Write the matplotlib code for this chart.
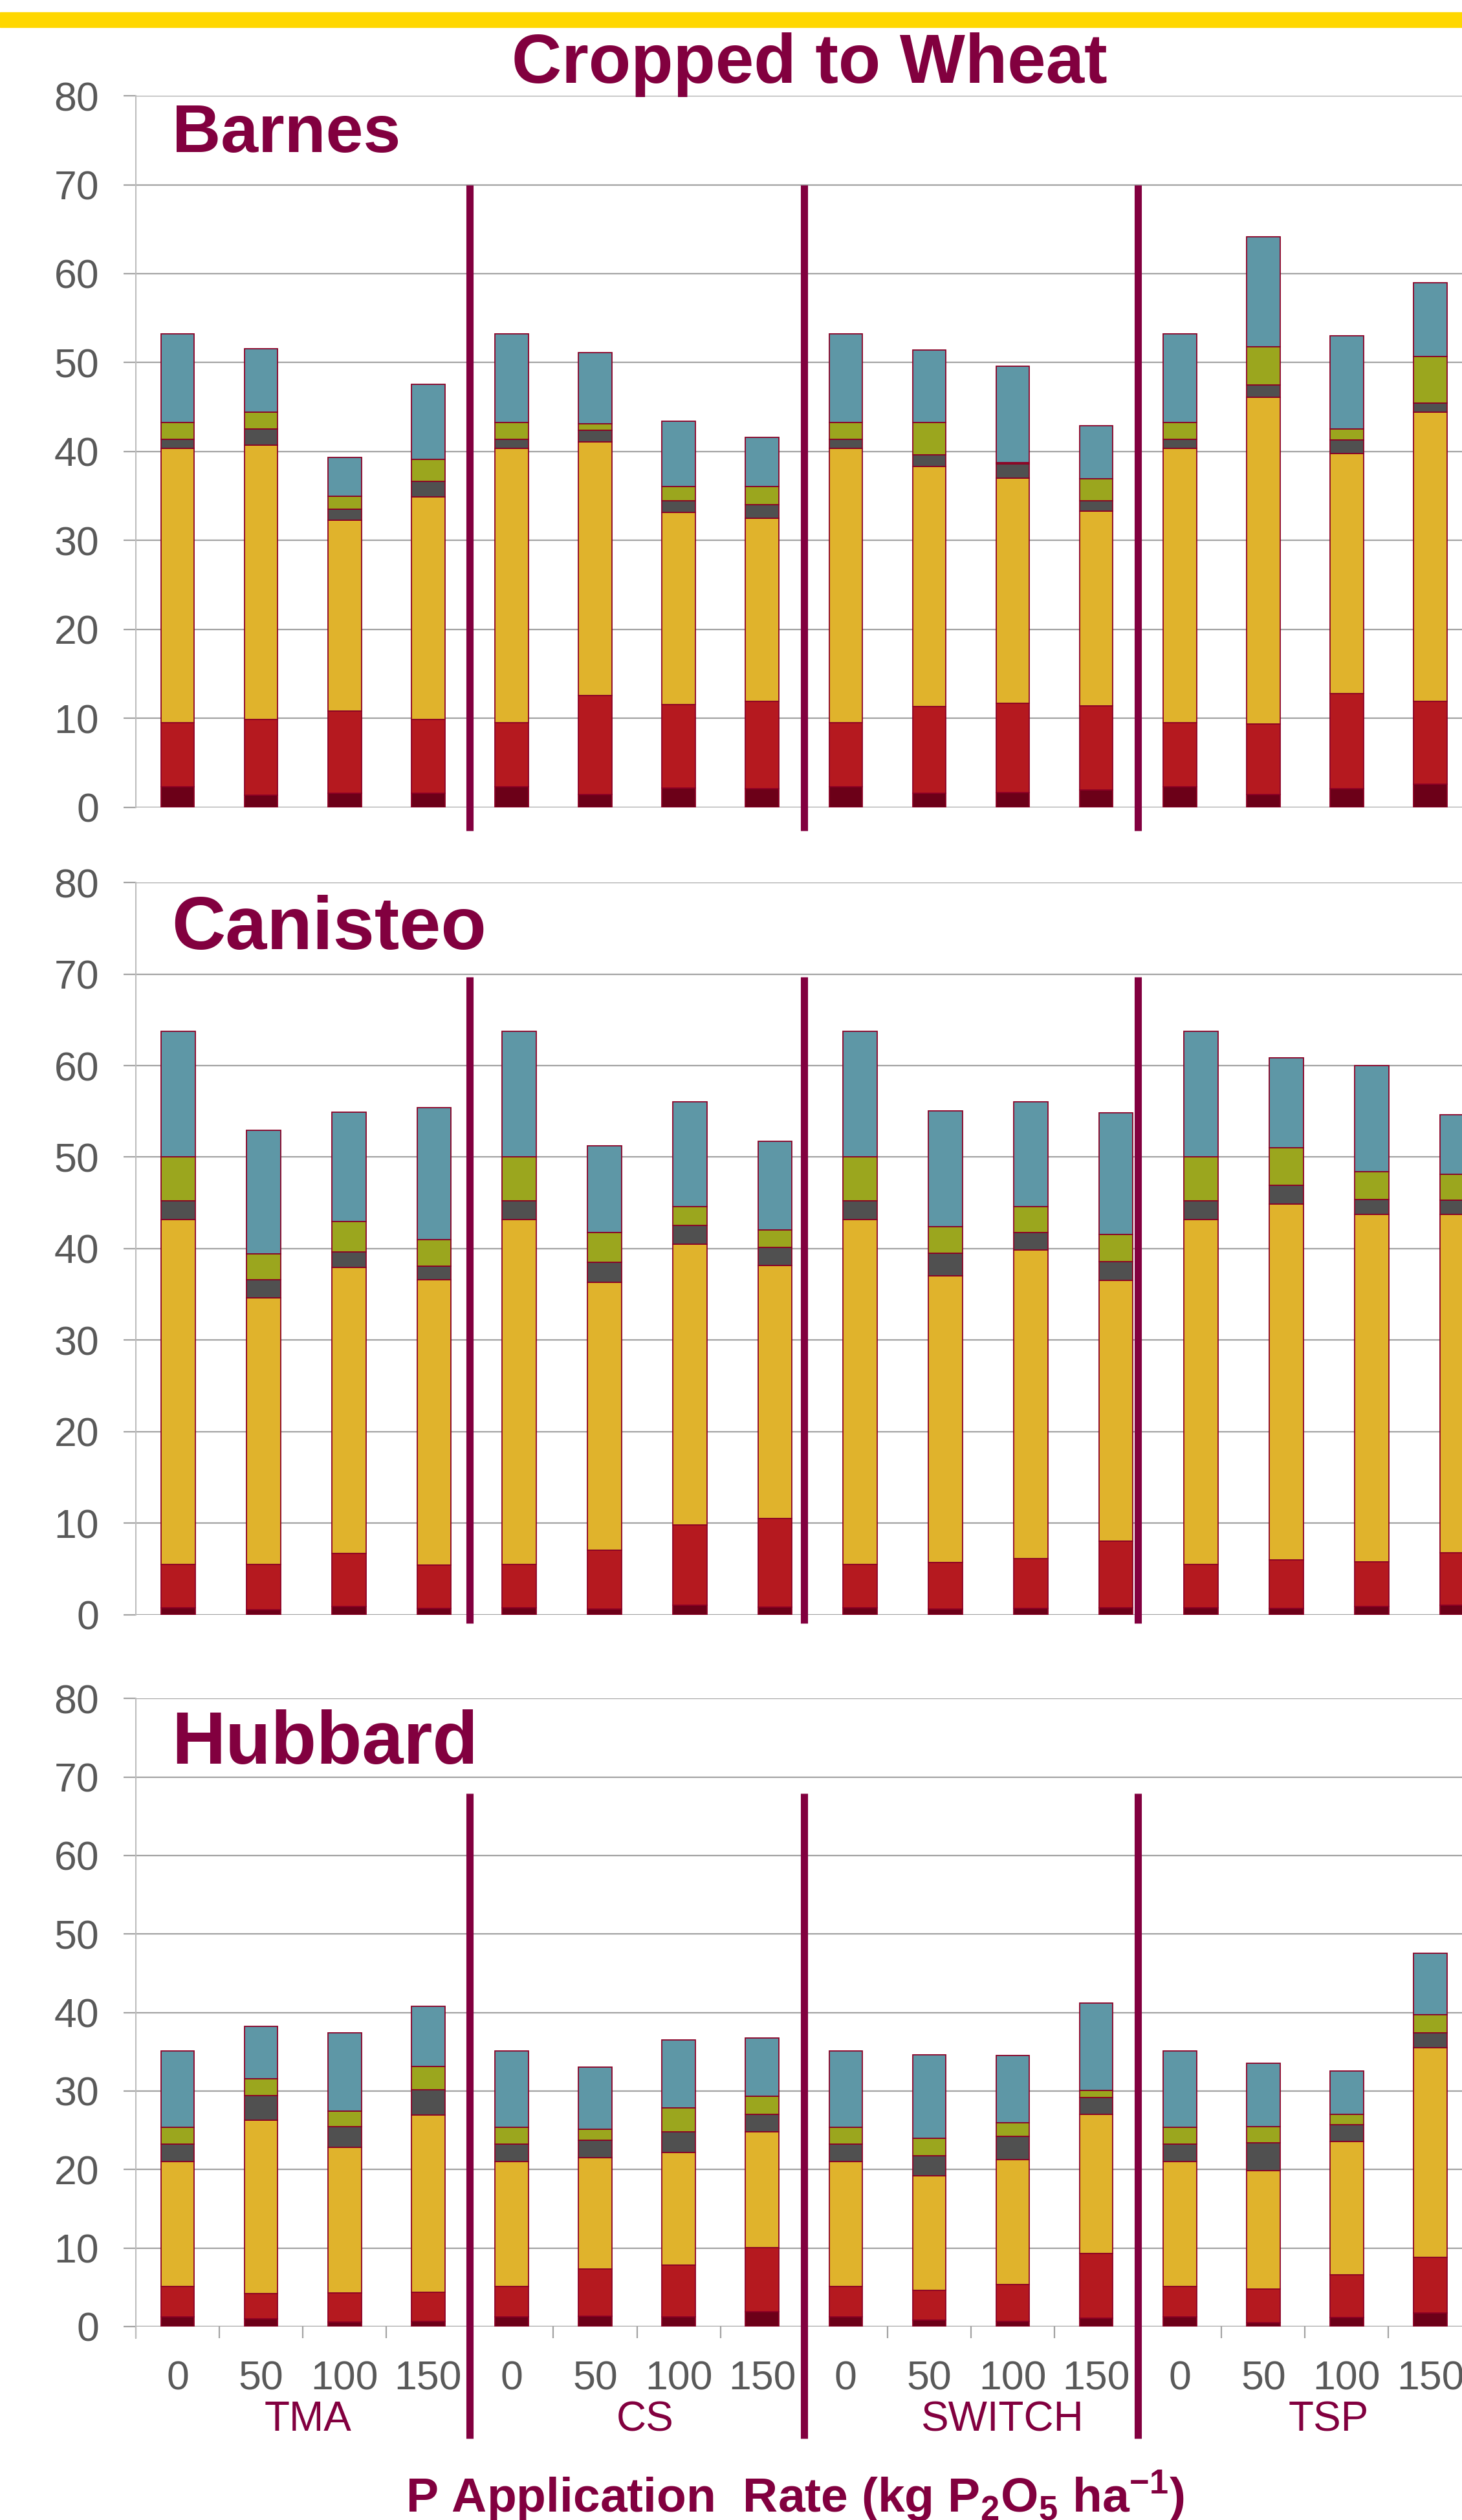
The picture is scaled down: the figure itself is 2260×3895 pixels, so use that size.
import matplotlib.pyplot as plt
import matplotlib.transforms as mtransforms
from matplotlib.patches import Rectangle
import numpy as np

plt.rcParams['font.family'] = ['Liberation Sans', 'DejaVu Sans']
plt.rcParams['mathtext.fontset'] = 'custom'
plt.rcParams['mathtext.rm'] = 'Liberation Sans:bold'
plt.rcParams['mathtext.bf'] = 'Liberation Sans:bold'

# categories: 4 sources x 4 rates
sources = ['TMA', 'CS', 'SWITCH', 'TSP']
rates = ['0', '50', '100', '150']

# segment heights, bottom to top (dark, red, gold, gray, olive, teal), 16 bars each
barnes_dark = [2.34, 1.36, 1.60, 1.60, 2.34, 1.46, 2.19, 2.09, 2.34, 1.60, 1.66, 1.95, 2.34, 1.46, 2.09, 2.58]
barnes_red = [7.16, 8.53, 9.21, 8.29, 7.16, 11.11, 9.40, 9.80, 7.16, 9.75, 10.08, 9.50, 7.16, 7.94, 10.72, 9.31]
barnes_gold = [30.83, 30.83, 21.48, 25.03, 30.83, 28.49, 21.58, 20.65, 30.83, 26.94, 25.28, 21.87, 30.83, 36.73, 26.94, 32.53]
barnes_gray = [1.07, 1.80, 1.27, 1.76, 1.07, 1.37, 1.32, 1.46, 1.07, 1.31, 1.61, 1.12, 1.07, 1.36, 1.56, 1.03]
barnes_olive = [1.90, 1.95, 1.41, 2.48, 1.90, 0.73, 1.60, 2.04, 1.90, 3.70, 0.10, 2.48, 1.90, 4.29, 1.21, 5.26]
barnes_teal = [9.94, 7.06, 4.34, 8.43, 9.94, 7.94, 7.36, 5.56, 9.94, 8.09, 10.86, 5.99, 9.94, 12.37, 10.52, 8.28]

canisteo_dark = [0.79, 0.56, 0.90, 0.68, 0.79, 0.62, 1.07, 0.85, 0.79, 0.62, 0.68, 0.79, 0.79, 0.68, 0.90, 1.07]
canisteo_red = [4.73, 4.96, 5.80, 4.73, 4.73, 6.42, 8.73, 9.69, 4.73, 5.07, 5.46, 7.27, 4.73, 5.29, 4.90, 5.69]
canisteo_gold = [37.69, 29.13, 31.22, 31.21, 37.69, 29.30, 30.71, 27.60, 37.69, 31.32, 33.69, 28.50, 37.69, 38.88, 37.92, 36.96]
canisteo_gray = [2.03, 1.97, 1.74, 1.46, 2.03, 2.14, 2.03, 1.97, 2.03, 2.48, 1.97, 2.03, 2.03, 2.08, 1.63, 1.58]
canisteo_olive = [4.79, 2.82, 3.33, 2.93, 4.79, 3.27, 2.02, 1.97, 4.79, 2.93, 2.82, 2.93, 4.79, 4.11, 3.04, 2.81]
canisteo_teal = [13.74, 13.52, 11.94, 14.43, 13.74, 9.52, 11.50, 9.64, 13.74, 12.62, 11.44, 13.30, 13.74, 9.81, 11.61, 6.54]

hubbard_dark = [1.20, 0.99, 0.57, 0.64, 1.20, 1.34, 1.20, 1.91, 1.20, 0.85, 0.64, 1.06, 1.20, 0.50, 1.13, 1.70]
hubbard_red = [3.89, 3.18, 3.67, 3.75, 3.89, 5.95, 6.58, 8.13, 3.89, 3.75, 4.67, 8.28, 3.89, 4.24, 5.45, 7.07]
hubbard_gold = [15.91, 22.14, 18.54, 22.56, 15.91, 14.21, 14.36, 14.72, 15.91, 14.57, 15.91, 17.68, 15.91, 15.14, 16.97, 26.74]
hubbard_gray = [2.27, 3.12, 2.68, 3.18, 2.27, 2.20, 2.62, 2.26, 2.27, 2.55, 2.97, 2.12, 2.27, 3.53, 2.13, 1.91]
hubbard_olive = [2.12, 2.12, 1.98, 2.97, 2.12, 1.41, 3.11, 2.33, 2.12, 2.26, 1.77, 0.92, 2.12, 2.05, 1.34, 2.33]
hubbard_teal = [9.69, 6.72, 9.98, 7.71, 9.69, 7.92, 8.63, 7.43, 9.69, 10.61, 8.56, 11.18, 9.69, 8.07, 5.52, 7.78]

seg_colors = ['#6C0018', '#B5191F', '#E0B32C', '#505050', '#9BA61E', '#5E97A6']
maroon = '#82003F'
edge = '#8B0025'
grid_gray = '#A3A3A3'
label_gray = '#595959'

fig = plt.figure(figsize=(22.6, 38.95), dpi=100)

# yellow band at the top
fig.patches.append(Rectangle((0, 1 - 42 / 3895), 1, 23 / 3895, transform=fig.transFigure,
                             color='#FFD700', zorder=0))

panels = [
    ('Barnes', [0.0929, 0.6796, 0.914, 0.2824], 75, 0.9397, 70, -2.6,
     [barnes_dark, barnes_red, barnes_gold, barnes_gray, barnes_olive, barnes_teal]),
    ('Canisteo', [0.0929, 0.3592, 0.9327, 0.2906], 83, 0.6234, 69.7, -0.9,
     [canisteo_dark, canisteo_red, canisteo_gold, canisteo_gray, canisteo_olive, canisteo_teal]),
    ('Hubbard', [0.0929, 0.0768, 0.914, 0.2492], 83, 0.3002, 67.9, -14.3,
     [hubbard_dark, hubbard_red, hubbard_gold, hubbard_gray, hubbard_olive, hubbard_teal]),
]

x = np.arange(len(sources) * len(rates))
axes = []
for name, rect, name_size, name_y, div_top, div_bot, segments in panels:
    ax = fig.add_axes(rect)
    axes.append(ax)
    bottom = np.zeros(len(x))
    for vals, col in zip(segments, seg_colors):
        ax.bar(x, vals, width=0.4, bottom=bottom, color=col, edgecolor=edge,
               linewidth=1.3, zorder=3)
        bottom += np.array(vals)

    ax.set_xlim(-0.5, 15.5)
    ax.set_ylim(0, 80)
    ax.set_yticks(np.arange(0, 81, 10))
    ax.grid(axis='y', color=grid_gray, linewidth=1.6, zorder=0)
    ax.tick_params(axis='y', length=14, width=1.6, color=grid_gray, pad=27,
                   labelsize=45, labelcolor=label_gray)
    for side in ['top', 'right', 'bottom']:
        ax.spines[side].set_visible(False)
    ax.spines['left'].set_color('#BDBDBD')
    ax.spines['left'].set_linewidth(1.5)
    ax.set_xticks([])

    fig.text(0.1175, name_y, name, fontsize=name_size, fontweight='bold',
             color=maroon, ha='left', va='baseline')
    ax.div_range = (div_top, div_bot)

# dividers between sources, placed like slide shapes at the same x in all panels
for ax in axes:
    trans = mtransforms.blended_transform_factory(axes[0].transData, ax.transData)
    top, bot = ax.div_range
    for xd in [3.5, 7.5, 11.5]:
        ax.plot([xd, xd], [bot, top], color=maroon, linewidth=8, transform=trans,
                clip_on=False, zorder=5, solid_capstyle='butt')

# bottom panel category axis
hub = axes[2]
hub.set_xticks(x)
hub.set_xticklabels(rates * len(sources))
hub.set_xticks(np.arange(-0.5, 16, 1), minor=True)
hub.tick_params(axis='x', which='major', length=0, pad=37, labelsize=45, labelcolor=label_gray)
hub.tick_params(axis='x', which='minor', length=13, width=1.6, color=grid_gray)
hub.spines['left'].set_bounds(-1.5, 80)
group_label_x = [1.56, 5.6, 9.87, 13.78]
for gx, src in zip(group_label_x, sources):
    hub.text(gx, -11.9, src, fontsize=46, color=maroon, ha='center', va='center')

fig.text(0.5535, 1 - 128 / 3895, 'Cropped to Wheat', fontsize=77, fontweight='bold',
         color=maroon, ha='center', va='baseline')
fig.text(0.544, 1 - 3884 / 3895,
         r'P Application  Rate (kg P$_\mathbf{2}$O$_\mathbf{5}$ ha$^\mathbf{-1}$)',
         fontsize=54, fontweight='bold', color=maroon, ha='center', va='baseline')

fig.savefig('out.png', dpi=100)
